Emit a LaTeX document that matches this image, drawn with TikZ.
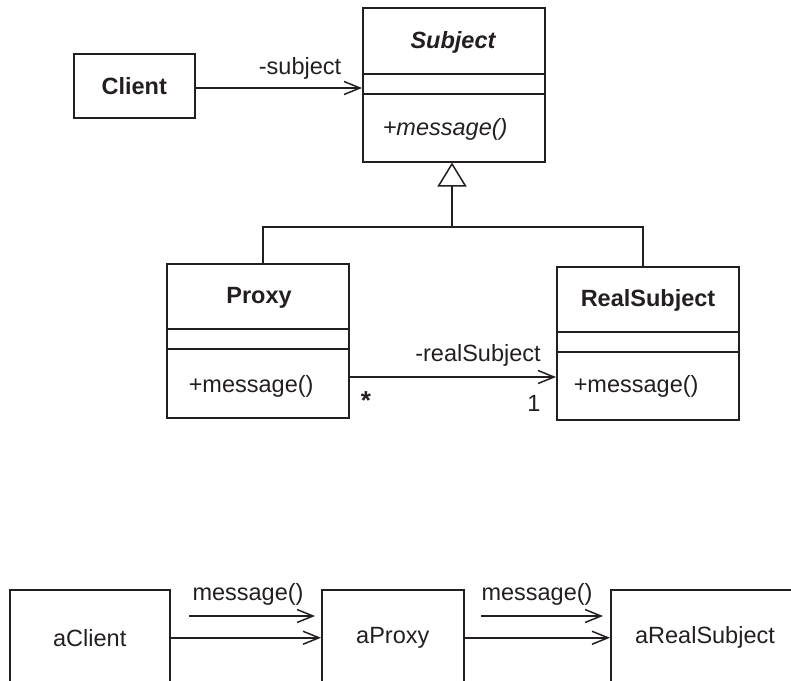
\documentclass[tikz,border=0pt]{standalone}
\usepackage{fontspec}
\setmainfont{Liberation Sans}
\usetikzlibrary{arrows.meta,calc}
\definecolor{ink}{HTML}{231F20}
\begin{document}
\begin{tikzpicture}[x=1pt,y=-1pt,line width=1.5pt,
  every node/.style={font=\fontsize{23.5}{28}\selectfont,text=ink},
  box/.style={draw=ink,rectangle,inner sep=0pt,anchor=north west},
  lbl/.style={inner sep=0pt,anchor=center},
  lft/.style={inner sep=0pt,anchor=west},
  assoc/.style={draw=ink,-{Straight Barb[length=16pt,width=13pt,line width=1.5pt]}},
  inh/.style={draw=ink,-{Triangle[open,length=24pt,width=29pt,line width=1.5pt]}},
  plain/.style={draw=ink}]
\useasboundingbox (0,0) rectangle (791,680);

% Class diagram
\node[box,minimum width=121pt,minimum height=64pt,font=\fontsize{23.5}{28}\selectfont\bfseries] (client) at (73,53) {Client};

\node[box,minimum width=182pt,minimum height=154pt] (subject) at (362,7) {};
\draw[plain] ($(subject.north west)+(0,67)$) coordinate (s1a) -- (s1a -| subject.east);
\draw[plain] ($(subject.north west)+(0,87)$) coordinate (s2a) -- (s2a -| subject.east);
\node[lbl,font=\fontsize{23.5}{28}\selectfont\bfseries\itshape] (subjname) at (453,42) {Subject};
\node[lft,font=\fontsize{23.5}{28}\selectfont\itshape] (subjop) at (382,129) {+message()};

\node[box,minimum width=182pt,minimum height=154pt] (proxy) at (166,263) {};
\draw[plain] ($(proxy.north west)+(0,66)$) coordinate (p1a) -- (p1a -| proxy.east);
\draw[plain] ($(proxy.north west)+(0,86)$) coordinate (p2a) -- (p2a -| proxy.east);
\node[lbl,font=\fontsize{23.5}{28}\selectfont\bfseries] (proxyname) at (259,298) {Proxy};
\node[lft] (proxyop) at (188,386) {+message()};

\node[box,minimum width=182pt,minimum height=153pt] (real) at (556,266) {};
\draw[plain] ($(real.north west)+(0,66)$) coordinate (r1a) -- (r1a -| real.east);
\draw[plain] ($(real.north west)+(0,86)$) coordinate (r2a) -- (r2a -| real.east);
\node[lbl,font=\fontsize{23.5}{28}\selectfont\bfseries] (realname) at (648,300) {RealSubject};
\node[lft] (realop) at (573,386) {+message()};

% association Client -> Subject
\coordinate (cy) at (0,88);
\draw[assoc] (client.east |- cy) -- (subject.west |- cy);
\node[lbl] (sublbl) at (300,68) {-subject};

% generalization
\coordinate (jn) at (452,227);
\draw[inh] (jn) -- (jn |- subject.south);
\draw[plain] ($(proxy.north west)+(97,0)$) |- (jn) -| ($(real.north west)+(87,0)$);

% association Proxy -> RealSubject
\coordinate (py) at (0,377);
\draw[assoc] (proxy.east |- py) -- (real.west |- py);
\node[lbl] (rslbl) at (478,355) {-realSubject};
\node[lbl,font=\fontsize{26}{28}\selectfont\bfseries] (star) at (366,401) {*};
\node[lbl] (one) at (534,403) {1};

% Object diagram
\node[box,minimum width=160pt,minimum height=96pt] (aclient) at (9,589) {aClient};
\node[box,minimum width=142pt,minimum height=96pt] (aproxy) at (321,589) {aProxy};
\node[box,minimum width=200pt,minimum height=96pt] (areal) at (610,589) {};
\node[lbl] (arealtxt) at (705,637) {aRealSubject};

\draw[assoc] (aclient.east) -- (aproxy.west);
\draw[assoc] (aproxy.east) -- (areal.west);

\coordinate (m1s) at (189,616);
\coordinate (m1e) at (315,616);
\draw[assoc] (m1s) -- (m1e);
\node[lbl] (m1) at (248,594) {message()};

\coordinate (m2s) at (481,616);
\coordinate (m2e) at (603,616);
\draw[assoc] (m2s) -- (m2e);
\node[lbl] (m2) at (537,594) {message()};
\end{tikzpicture}
\end{document}
